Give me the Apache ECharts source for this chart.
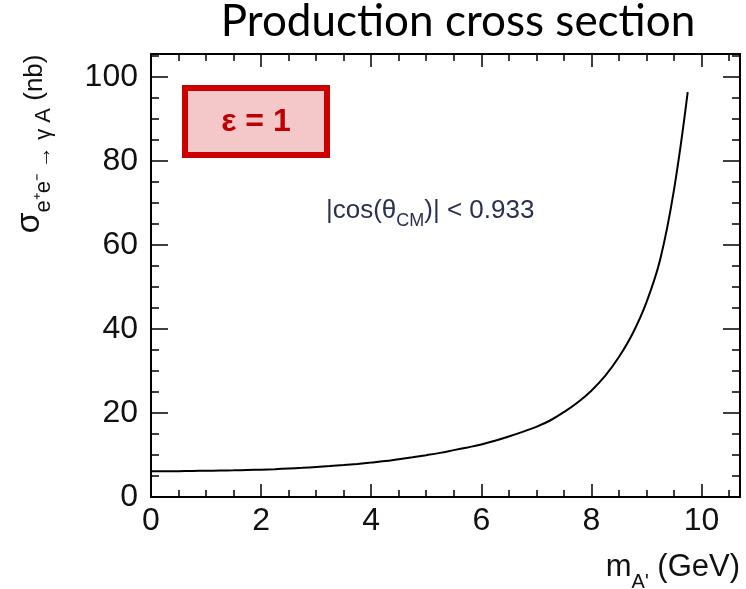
<!DOCTYPE html>
<html>
<head>
<meta charset="utf-8">
<script src="https://cdn.jsdelivr.net/npm/echarts@6/dist/echarts.min.js"></script>
<style>
html,body{margin:0;padding:0;background:#fff;}
#chart{width:746px;height:589px;}
</style>
</head>
<body>
<div id="chart"></div>
<script>
// Data
const massGeV = [0, 0.25, 0.5, 0.75, 1, 1.25, 1.5, 1.75, 2, 2.25, 2.5, 2.75, 3, 3.25, 3.5, 3.75, 4, 4.25, 4.5, 4.75, 5, 5.25, 5.5, 5.75, 6, 6.25, 6.5, 6.75, 7, 7.25, 7.5, 7.75, 8, 8.25, 8.5, 8.75, 9, 9.25, 9.5, 9.75];
const xsecNb  = [6.1, 6.12, 6.15, 6.2, 6.25, 6.3, 6.35, 6.42, 6.5, 6.62, 6.78, 6.95, 7.15, 7.35, 7.6, 7.88, 8.2, 8.55, 9.0, 9.45, 9.95, 10.5, 11.15, 11.8, 12.5, 13.4, 14.4, 15.5, 16.7, 18.2, 20.2, 22.5, 25.3, 28.8, 33.3, 38.9, 46.3, 56.5, 73.0, 96.3];
const xMajorTicks = [0, 2, 4, 6, 8, 10];
const xMinorTicks = [0.5, 1, 1.5, 2.5, 3, 3.5, 4.5, 5, 5.5, 6.5, 7, 7.5, 8.5, 9, 9.5, 10.5];
const yMajorTicks = [0, 20, 40, 60, 80, 100];
const yMinorTicks = [5, 10, 15, 25, 30, 35, 45, 50, 55, 65, 70, 75, 85, 90, 95, 105];
const xRange = [0, 10.7];
const yRange = [0, 105.4];

const chart = echarts.init(document.getElementById('chart'), null, {renderer: 'canvas'});
const FONT = 'Liberation Sans';
const lineCol = '#000';

function xAxisDef(pos, ticks, len, showLabel, showLine) {
  return {
    type: 'value', position: pos, min: xRange[0], max: xRange[1],
    axisLine: {show: showLine, onZero: false, lineStyle: {color: lineCol, width: 2}},
    axisTick: {show: true, inside: true, length: len, customValues: ticks, lineStyle: {color: lineCol, width: 1.5}},
    axisLabel: {show: showLabel, customValues: ticks, color: '#111', fontFamily: FONT, fontSize: 32, margin: 8},
    splitLine: {show: false}
  };
}
function yAxisDef(pos, ticks, len, showLabel, showLine) {
  return {
    type: 'value', position: pos, min: yRange[0], max: yRange[1],
    axisLine: {show: showLine, onZero: false, lineStyle: {color: lineCol, width: 2}},
    axisTick: {show: true, inside: true, length: len, customValues: ticks, lineStyle: {color: lineCol, width: 1.5}},
    axisLabel: {show: showLabel, customValues: ticks, color: '#111', fontFamily: FONT, fontSize: 32, margin: 13},
    splitLine: {show: false}
  };
}

const option = {
  backgroundColor: '#fff',
  animation: false,
  grid: {left: 151, right: 6, top: 54, bottom: 92, containLabel: false},
  xAxis: [
    xAxisDef('bottom', xMajorTicks, 13, true, true),
    xAxisDef('bottom', xMinorTicks, 7, false, false),
    xAxisDef('top', xMajorTicks, 13, false, true),
    xAxisDef('top', xMinorTicks, 7, false, false)
  ],
  yAxis: [
    yAxisDef('left', yMajorTicks, 17, true, true),
    yAxisDef('left', yMinorTicks, 8, false, false),
    yAxisDef('right', yMajorTicks, 17, false, true),
    yAxisDef('right', yMinorTicks, 8, false, false)
  ],
  series: [{
    type: 'line',
    xAxisIndex: 0, yAxisIndex: 0,
    data: massGeV.map((m, i) => [m, xsecNb[i]]),
    smooth: 0.4,
    showSymbol: false,
    lineStyle: {color: '#000', width: 2}
  }],
  graphic: [
    {
      type: 'text', x: 458, y: 0,
      style: {text: 'Production cross section', fontFamily: 'Lato', fontSize: 44, fill: '#000', align: 'center'}
    },
    {
      type: 'group', x: 185, y: 88,
      children: [
        {type: 'rect', shape: {x: 0, y: 0, width: 142, height: 67},
         style: {fill: '#f4c8c9', stroke: '#cc0000', lineWidth: 6}},
        {type: 'text', x: 71, y: 34,
         style: {text: 'ε = 1', fontFamily: FONT, fontWeight: 'bold', fontSize: 32, fill: '#c00000',
                 align: 'center', verticalAlign: 'middle'}}
      ]
    },
    {
      type: 'text', x: 326, y: 214,
      style: {
        text: '{m||cos(θ}{s|CM}{m|)| < 0.933}',
        verticalAlign: 'middle',
        rich: {
          m: {fontFamily: FONT, fontSize: 26, fill: '#2a3050', verticalAlign: 'top', lineHeight: 28},
          s: {fontFamily: FONT, fontSize: 18, fill: '#2a3050', verticalAlign: 'bottom', lineHeight: 33}
        }
      }
    },
    {
      type: 'text', x: 740, y: 572,
      style: {
        text: '{m|m}{s|A\'}{m| (GeV)}',
        align: 'right', verticalAlign: 'middle',
        rich: {
          m: {fontFamily: FONT, fontSize: 31, fill: '#111', verticalAlign: 'top', lineHeight: 34},
          s: {fontFamily: FONT, fontSize: 20, fill: '#111', verticalAlign: 'bottom', lineHeight: 40}
        }
      }
    },
    {
      type: 'text', x: 34, y: 144, rotation: Math.PI / 2,
      style: {
        text: '{g|σ}{s|e⁺e⁻ → γ A}{m| (nb)}',
        align: 'center', verticalAlign: 'middle',
        rich: {
          g: {fontFamily: FONT, fontSize: 34, fill: '#111', verticalAlign: 'top', lineHeight: 36},
          s: {fontFamily: FONT, fontSize: 22, fill: '#111', verticalAlign: 'bottom', lineHeight: 42},
          m: {fontFamily: FONT, fontSize: 26, fill: '#111', verticalAlign: 'top', lineHeight: 30, padding: [9, 0, 0, 0]}
        }
      }
    }
  ]
};
chart.setOption(option);
</script>
</body>
</html>
